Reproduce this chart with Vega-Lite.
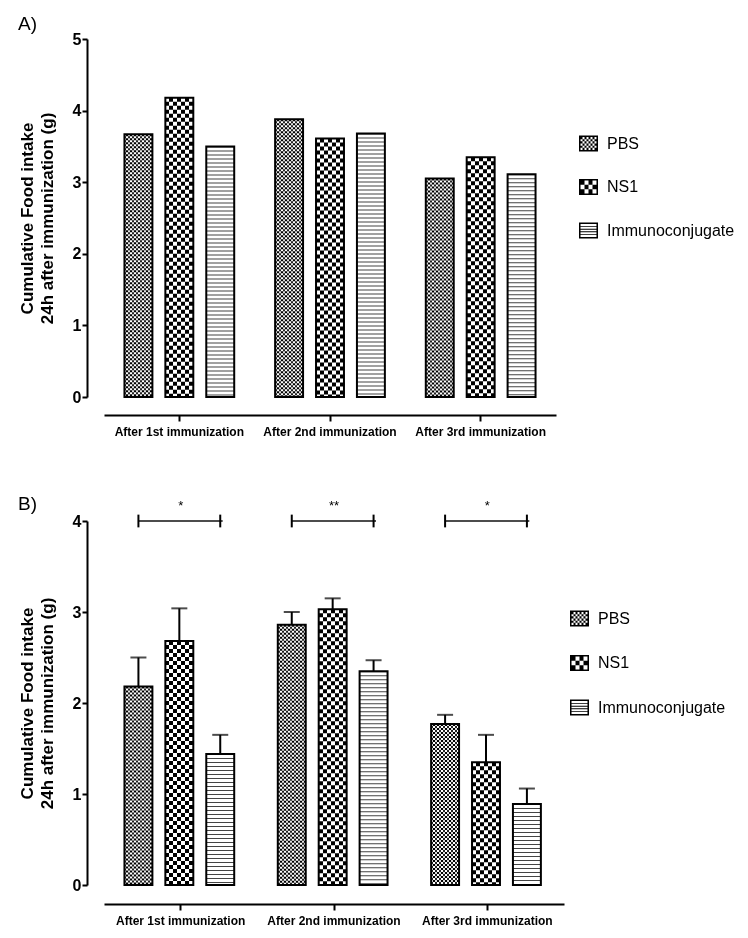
{
  "$schema": "https://vega.github.io/schema/vega-lite/v6.json",
  "background": "white",
  "padding": {"left": 18, "top": 15, "right": 5, "bottom": 5},
  "spacing": 58,
  "resolve": {"scale": {"shape": "independent"}, "legend": {"shape": "independent"}},
  "datasets": {
    "A": [
      {"group": "After 1st immunization", "series": "PBS", "value": 3.67},
      {"group": "After 1st immunization", "series": "NS1", "value": 4.18},
      {"group": "After 1st immunization", "series": "Immunoconjugate", "value": 3.50},
      {"group": "After 2nd immunization", "series": "PBS", "value": 3.88},
      {"group": "After 2nd immunization", "series": "NS1", "value": 3.61},
      {"group": "After 2nd immunization", "series": "Immunoconjugate", "value": 3.68},
      {"group": "After 3rd immunization", "series": "PBS", "value": 3.05},
      {"group": "After 3rd immunization", "series": "NS1", "value": 3.35},
      {"group": "After 3rd immunization", "series": "Immunoconjugate", "value": 3.11}
    ],
    "B": [
      {"group": "After 1st immunization", "series": "PBS", "value": 2.18, "upper": 2.50},
      {"group": "After 1st immunization", "series": "NS1", "value": 2.68, "upper": 3.04},
      {"group": "After 1st immunization", "series": "Immunoconjugate", "value": 1.44, "upper": 1.65},
      {"group": "After 2nd immunization", "series": "PBS", "value": 2.86, "upper": 3.00},
      {"group": "After 2nd immunization", "series": "NS1", "value": 3.03, "upper": 3.15},
      {"group": "After 2nd immunization", "series": "Immunoconjugate", "value": 2.35, "upper": 2.47},
      {"group": "After 3rd immunization", "series": "PBS", "value": 1.77, "upper": 1.87},
      {"group": "After 3rd immunization", "series": "NS1", "value": 1.35, "upper": 1.65},
      {"group": "After 3rd immunization", "series": "Immunoconjugate", "value": 0.89, "upper": 1.06}
    ],
    "sigB": [
      {"group": "After 1st immunization", "label": "*", "level": 4, "capLow": 3.93, "capHigh": 4.07},
      {"group": "After 2nd immunization", "label": "**", "level": 4, "capLow": 3.93, "capHigh": 4.07},
      {"group": "After 3rd immunization", "label": "*", "level": 4, "capLow": 3.93, "capHigh": 4.07}
    ]
  },
  "vconcat": [
    {
      "width": 452,
      "height": 358,
      "title": {"text": "A)", "anchor": "start", "frame": "bounds", "font": "Liberation Sans", "fontSize": 19, "fontWeight": "normal", "offset": -3},
      "data": {"name": "A"},
      "encoding": {
        "x": {"field": "group", "type": "nominal", "sort": ["After 1st immunization", "After 2nd immunization", "After 3rd immunization"], "scale": {"paddingInner": 0, "paddingOuter": 0},
          "axis": {"title": null, "labelFontSize": 12, "labelFontWeight": "bold", "labelAngle": 0, "domainWidth": 2, "tickWidth": 2, "tickSize": 6, "labelPadding": 5, "offset": 18}},
        "y": {"field": "value", "type": "quantitative", "scale": {"domain": [0, 5], "nice": false},
          "axis": {"title": ["Cumulative Food intake", "24h after immunization (g)"], "values": [0, 1, 2, 3, 4, 5], "format": "d", "labelFontSize": 16, "labelFontWeight": "bold", "labelPadding": 1, "tickSize": 5, "tickWidth": 2, "domainWidth": 2, "offset": 17, "titleFontSize": 17, "titleFontWeight": "bold", "titlePadding": 16, "titleLineHeight": 20}}
      },
      "layer": [
        {"transform": [{"filter": "datum.series === 'PBS'"}],
         "mark": {"type": "bar", "strokeWidth": 0, "fill": {"gradient": "linear", "x1": 0, "y1": 0, "x2": 1, "y2": 0, "stops": [
           {"offset": 0, "color": "#222"}, {"offset": 0.071429, "color": "#222"}, {"offset": 0.071429, "color": "white"}, {"offset": 0.142857, "color": "white"},
           {"offset": 0.142857, "color": "#222"}, {"offset": 0.214286, "color": "#222"}, {"offset": 0.214286, "color": "white"}, {"offset": 0.285714, "color": "white"},
           {"offset": 0.285714, "color": "#222"}, {"offset": 0.357143, "color": "#222"}, {"offset": 0.357143, "color": "white"}, {"offset": 0.428571, "color": "white"},
           {"offset": 0.428571, "color": "#222"}, {"offset": 0.5, "color": "#222"}, {"offset": 0.5, "color": "white"}, {"offset": 0.571429, "color": "white"},
           {"offset": 0.571429, "color": "#222"}, {"offset": 0.642857, "color": "#222"}, {"offset": 0.642857, "color": "white"}, {"offset": 0.714286, "color": "white"},
           {"offset": 0.714286, "color": "#222"}, {"offset": 0.785714, "color": "#222"}, {"offset": 0.785714, "color": "white"}, {"offset": 0.857143, "color": "white"},
           {"offset": 0.857143, "color": "#222"}, {"offset": 0.928571, "color": "#222"}, {"offset": 0.928571, "color": "white"}, {"offset": 1, "color": "white"}]}},
         "encoding": {"xOffset": {"field": "series", "type": "nominal", "sort": ["PBS", "NS1", "Immunoconjugate"], "scale": {"paddingInner": 0.317, "paddingOuter": 0.5}}}},
        {"transform": [{"filter": "datum.series === 'PBS'"}],
         "mark": {"type": "rule", "stroke": "white", "strokeWidth": 28, "strokeDash": [2, 2], "blend": "difference"},
         "encoding": {"xOffset": {"field": "series", "type": "nominal", "sort": ["PBS", "NS1", "Immunoconjugate"]}, "y2": {"datum": 0}}},
        {"transform": [{"filter": "datum.series === 'NS1'"}],
         "mark": {"type": "bar", "strokeWidth": 0, "fill": {"gradient": "linear", "x1": 0, "y1": 0, "x2": 1, "y2": 0, "stops": [
           {"offset": 0, "color": "black"}, {"offset": 0.142857, "color": "black"}, {"offset": 0.142857, "color": "white"}, {"offset": 0.285714, "color": "white"},
           {"offset": 0.285714, "color": "black"}, {"offset": 0.428571, "color": "black"}, {"offset": 0.428571, "color": "white"}, {"offset": 0.571429, "color": "white"},
           {"offset": 0.571429, "color": "black"}, {"offset": 0.714286, "color": "black"}, {"offset": 0.714286, "color": "white"}, {"offset": 0.857143, "color": "white"},
           {"offset": 0.857143, "color": "black"}, {"offset": 1, "color": "black"}]}},
         "encoding": {"xOffset": {"field": "series", "type": "nominal", "sort": ["PBS", "NS1", "Immunoconjugate"]}}},
        {"transform": [{"filter": "datum.series === 'NS1'"}],
         "mark": {"type": "rule", "stroke": "white", "strokeWidth": 28, "strokeDash": [4, 4], "blend": "difference"},
         "encoding": {"xOffset": {"field": "series", "type": "nominal", "sort": ["PBS", "NS1", "Immunoconjugate"]}, "y2": {"datum": 0}}},
        {"transform": [{"filter": "datum.series === 'Immunoconjugate'"}],
         "mark": {"type": "bar", "strokeWidth": 0, "fill": "white"},
         "encoding": {"xOffset": {"field": "series", "type": "nominal", "sort": ["PBS", "NS1", "Immunoconjugate"]}}},
        {"transform": [{"filter": "datum.series === 'Immunoconjugate'"}],
         "mark": {"type": "rule", "stroke": "#444", "strokeWidth": 28, "strokeDash": [1, 3]},
         "encoding": {"xOffset": {"field": "series", "type": "nominal", "sort": ["PBS", "NS1", "Immunoconjugate"]}, "y2": {"datum": 0}}},
        {"mark": {"type": "bar", "filled": false, "stroke": "black", "strokeWidth": 2},
         "encoding": {"xOffset": {"field": "series", "type": "nominal", "sort": ["PBS", "NS1", "Immunoconjugate"]}}},
        {"mark": {"type": "point", "filled": true, "color": "black", "opacity": 0},
         "encoding": {"xOffset": {"field": "series", "type": "nominal", "sort": ["PBS", "NS1", "Immunoconjugate"]},
           "shape": {"field": "series", "type": "nominal", "sort": ["PBS", "NS1", "Immunoconjugate"],
             "scale": {"domain": ["PBS", "NS1", "Immunoconjugate"], "range": [
               "M-1,-0.84H1V0.84H-1Z M-0.84,-0.68V0.68H0.84V-0.68Z M-0.84,-0.68h0.21v0.2267h-0.21Z M-0.42,-0.68h0.21v0.2267h-0.21Z M0,-0.68h0.21v0.2267h-0.21Z M0.42,-0.68h0.21v0.2267h-0.21Z M-0.63,-0.4533h0.21v0.2267h-0.21Z M-0.21,-0.4533h0.21v0.2267h-0.21Z M0.21,-0.4533h0.21v0.2267h-0.21Z M0.63,-0.4533h0.21v0.2267h-0.21Z M-0.84,-0.2267h0.21v0.2267h-0.21Z M-0.42,-0.2267h0.21v0.2267h-0.21Z M0,-0.2267h0.21v0.2267h-0.21Z M0.42,-0.2267h0.21v0.2267h-0.21Z M-0.63,0h0.21v0.2267h-0.21Z M-0.21,0h0.21v0.2267h-0.21Z M0.21,0h0.21v0.2267h-0.21Z M0.63,0h0.21v0.2267h-0.21Z M-0.84,0.2267h0.21v0.2267h-0.21Z M-0.42,0.2267h0.21v0.2267h-0.21Z M0,0.2267h0.21v0.2267h-0.21Z M0.42,0.2267h0.21v0.2267h-0.21Z M-0.63,0.4533h0.21v0.2267h-0.21Z M-0.21,0.4533h0.21v0.2267h-0.21Z M0.21,0.4533h0.21v0.2267h-0.21Z M0.63,0.4533h0.21v0.2267h-0.21Z",
               "M-1,-0.84H1V0.84H-1Z M-0.84,-0.68V0.68H0.84V-0.68Z M-0.84,-0.68h0.42v0.4533h-0.42Z M0,-0.68h0.42v0.4533h-0.42Z M-0.42,-0.2267h0.42v0.4533h-0.42Z M0.42,-0.2267h0.42v0.4533h-0.42Z M-0.84,0.2267h0.42v0.4533h-0.42Z M0,0.2267h0.42v0.4533h-0.42Z",
               "M-1,-0.84H1V0.84H-1Z M-0.84,-0.68V0.68H0.84V-0.68Z M-0.84,-0.458h1.68v0.1h-1.68Z M-0.84,-0.186h1.68v0.1h-1.68Z M-0.84,0.086h1.68v0.1h-1.68Z M-0.84,0.358h1.68v0.1h-1.68Z"]},
             "legend": {"orient": "none", "legendX": 475, "legendY": 95, "title": null, "padding": 0, "symbolSize": 361, "symbolFillColor": "black", "symbolStrokeWidth": 0, "symbolOpacity": 1, "labelFont": "Liberation Sans", "labelFontSize": 16, "labelColor": "black", "rowPadding": 25.5, "labelOffset": 9}}}}
      ]
    },
    {
      "width": 460,
      "height": 364,
      "title": {"text": "B)", "anchor": "start", "frame": "bounds", "font": "Liberation Sans", "fontSize": 19, "fontWeight": "normal", "offset": -14},
      "data": {"name": "B"},
      "encoding": {
        "x": {"field": "group", "type": "nominal", "sort": ["After 1st immunization", "After 2nd immunization", "After 3rd immunization"], "scale": {"paddingInner": 0, "paddingOuter": 0},
          "axis": {"title": null, "labelFontSize": 12, "labelFontWeight": "bold", "labelAngle": 0, "domainWidth": 2, "tickWidth": 2, "tickSize": 6, "labelPadding": 5, "offset": 19}},
        "y": {"field": "value", "type": "quantitative", "scale": {"domain": [0, 4], "nice": false},
          "title": ["Cumulative Food intake", "24h after immunization (g)"],
          "axis": {"values": [0, 1, 2, 3, 4], "format": "d", "labelFontSize": 16, "labelFontWeight": "bold", "labelPadding": 1, "tickSize": 5, "tickWidth": 2, "domainWidth": 2, "offset": 17, "titleFontSize": 17, "titleFontWeight": "bold", "titlePadding": 16, "titleLineHeight": 20}}
      },
      "layer": [
        {"transform": [{"filter": "datum.series === 'PBS'"}],
         "mark": {"type": "bar", "strokeWidth": 0, "fill": {"gradient": "linear", "x1": 0, "y1": 0, "x2": 1, "y2": 0, "stops": [
           {"offset": 0, "color": "#222"}, {"offset": 0.071429, "color": "#222"}, {"offset": 0.071429, "color": "white"}, {"offset": 0.142857, "color": "white"},
           {"offset": 0.142857, "color": "#222"}, {"offset": 0.214286, "color": "#222"}, {"offset": 0.214286, "color": "white"}, {"offset": 0.285714, "color": "white"},
           {"offset": 0.285714, "color": "#222"}, {"offset": 0.357143, "color": "#222"}, {"offset": 0.357143, "color": "white"}, {"offset": 0.428571, "color": "white"},
           {"offset": 0.428571, "color": "#222"}, {"offset": 0.5, "color": "#222"}, {"offset": 0.5, "color": "white"}, {"offset": 0.571429, "color": "white"},
           {"offset": 0.571429, "color": "#222"}, {"offset": 0.642857, "color": "#222"}, {"offset": 0.642857, "color": "white"}, {"offset": 0.714286, "color": "white"},
           {"offset": 0.714286, "color": "#222"}, {"offset": 0.785714, "color": "#222"}, {"offset": 0.785714, "color": "white"}, {"offset": 0.857143, "color": "white"},
           {"offset": 0.857143, "color": "#222"}, {"offset": 0.928571, "color": "#222"}, {"offset": 0.928571, "color": "white"}, {"offset": 1, "color": "white"}]}},
         "encoding": {"xOffset": {"field": "series", "type": "nominal", "sort": ["PBS", "NS1", "Immunoconjugate"], "scale": {"paddingInner": 0.317, "paddingOuter": 0.5}}}},
        {"transform": [{"filter": "datum.series === 'PBS'"}],
         "mark": {"type": "rule", "stroke": "white", "strokeWidth": 28, "strokeDash": [2, 2], "blend": "difference"},
         "encoding": {"xOffset": {"field": "series", "type": "nominal", "sort": ["PBS", "NS1", "Immunoconjugate"]}, "y2": {"datum": 0}}},
        {"transform": [{"filter": "datum.series === 'NS1'"}],
         "mark": {"type": "bar", "strokeWidth": 0, "fill": {"gradient": "linear", "x1": 0, "y1": 0, "x2": 1, "y2": 0, "stops": [
           {"offset": 0, "color": "black"}, {"offset": 0.142857, "color": "black"}, {"offset": 0.142857, "color": "white"}, {"offset": 0.285714, "color": "white"},
           {"offset": 0.285714, "color": "black"}, {"offset": 0.428571, "color": "black"}, {"offset": 0.428571, "color": "white"}, {"offset": 0.571429, "color": "white"},
           {"offset": 0.571429, "color": "black"}, {"offset": 0.714286, "color": "black"}, {"offset": 0.714286, "color": "white"}, {"offset": 0.857143, "color": "white"},
           {"offset": 0.857143, "color": "black"}, {"offset": 1, "color": "black"}]}},
         "encoding": {"xOffset": {"field": "series", "type": "nominal", "sort": ["PBS", "NS1", "Immunoconjugate"]}}},
        {"transform": [{"filter": "datum.series === 'NS1'"}],
         "mark": {"type": "rule", "stroke": "white", "strokeWidth": 28, "strokeDash": [4, 4], "blend": "difference"},
         "encoding": {"xOffset": {"field": "series", "type": "nominal", "sort": ["PBS", "NS1", "Immunoconjugate"]}, "y2": {"datum": 0}}},
        {"transform": [{"filter": "datum.series === 'Immunoconjugate'"}],
         "mark": {"type": "bar", "strokeWidth": 0, "fill": "white"},
         "encoding": {"xOffset": {"field": "series", "type": "nominal", "sort": ["PBS", "NS1", "Immunoconjugate"]}}},
        {"transform": [{"filter": "datum.series === 'Immunoconjugate'"}],
         "mark": {"type": "rule", "stroke": "#444", "strokeWidth": 28, "strokeDash": [1, 3]},
         "encoding": {"xOffset": {"field": "series", "type": "nominal", "sort": ["PBS", "NS1", "Immunoconjugate"]}, "y2": {"datum": 0}}},
        {"mark": {"type": "bar", "filled": false, "stroke": "black", "strokeWidth": 2},
         "encoding": {"xOffset": {"field": "series", "type": "nominal", "sort": ["PBS", "NS1", "Immunoconjugate"]}}},
        {"mark": {"type": "rule", "color": "black", "strokeWidth": 2},
         "encoding": {"xOffset": {"field": "series", "type": "nominal", "sort": ["PBS", "NS1", "Immunoconjugate"]},
           "y": {"field": "upper", "type": "quantitative", "title": ["Cumulative Food intake", "24h after immunization (g)"]}, "y2": {"field": "value"}}},
        {"mark": {"type": "tick", "color": "black", "size": 16, "thickness": 2},
         "encoding": {"xOffset": {"field": "series", "type": "nominal", "sort": ["PBS", "NS1", "Immunoconjugate"]},
           "y": {"field": "upper", "type": "quantitative", "title": ["Cumulative Food intake", "24h after immunization (g)"]}}},
        {"data": {"name": "sigB"},
         "mark": {"type": "tick", "color": "black", "size": 84, "thickness": 2},
         "encoding": {"y": {"field": "level", "type": "quantitative", "title": ["Cumulative Food intake", "24h after immunization (g)"]}}},
        {"data": {"name": "sigB"},
         "mark": {"type": "text", "color": "black", "fontSize": 13, "dy": -15},
         "encoding": {"y": {"field": "level", "type": "quantitative", "title": ["Cumulative Food intake", "24h after immunization (g)"]}, "text": {"field": "label"}}},
        {"transform": [{"filter": "datum.series !== 'NS1'"}, {"lookup": "group", "from": {"data": {"name": "sigB"}, "key": "group", "fields": ["capLow", "capHigh"]}}],
         "mark": {"type": "rule", "color": "black", "strokeWidth": 2},
         "encoding": {"xOffset": {"field": "series", "type": "nominal", "sort": ["PBS", "NS1", "Immunoconjugate"]},
           "y": {"field": "capLow", "type": "quantitative", "title": ["Cumulative Food intake", "24h after immunization (g)"]}, "y2": {"field": "capHigh"}}},
        {"mark": {"type": "point", "filled": true, "color": "black", "opacity": 0},
         "encoding": {"xOffset": {"field": "series", "type": "nominal", "sort": ["PBS", "NS1", "Immunoconjugate"]},
           "shape": {"field": "series", "type": "nominal", "sort": ["PBS", "NS1", "Immunoconjugate"],
             "scale": {"domain": ["PBS", "NS1", "Immunoconjugate"], "range": [
               "M-1,-0.84H1V0.84H-1Z M-0.84,-0.68V0.68H0.84V-0.68Z M-0.84,-0.68h0.21v0.2267h-0.21Z M-0.42,-0.68h0.21v0.2267h-0.21Z M0,-0.68h0.21v0.2267h-0.21Z M0.42,-0.68h0.21v0.2267h-0.21Z M-0.63,-0.4533h0.21v0.2267h-0.21Z M-0.21,-0.4533h0.21v0.2267h-0.21Z M0.21,-0.4533h0.21v0.2267h-0.21Z M0.63,-0.4533h0.21v0.2267h-0.21Z M-0.84,-0.2267h0.21v0.2267h-0.21Z M-0.42,-0.2267h0.21v0.2267h-0.21Z M0,-0.2267h0.21v0.2267h-0.21Z M0.42,-0.2267h0.21v0.2267h-0.21Z M-0.63,0h0.21v0.2267h-0.21Z M-0.21,0h0.21v0.2267h-0.21Z M0.21,0h0.21v0.2267h-0.21Z M0.63,0h0.21v0.2267h-0.21Z M-0.84,0.2267h0.21v0.2267h-0.21Z M-0.42,0.2267h0.21v0.2267h-0.21Z M0,0.2267h0.21v0.2267h-0.21Z M0.42,0.2267h0.21v0.2267h-0.21Z M-0.63,0.4533h0.21v0.2267h-0.21Z M-0.21,0.4533h0.21v0.2267h-0.21Z M0.21,0.4533h0.21v0.2267h-0.21Z M0.63,0.4533h0.21v0.2267h-0.21Z",
               "M-1,-0.84H1V0.84H-1Z M-0.84,-0.68V0.68H0.84V-0.68Z M-0.84,-0.68h0.42v0.4533h-0.42Z M0,-0.68h0.42v0.4533h-0.42Z M-0.42,-0.2267h0.42v0.4533h-0.42Z M0.42,-0.2267h0.42v0.4533h-0.42Z M-0.84,0.2267h0.42v0.4533h-0.42Z M0,0.2267h0.42v0.4533h-0.42Z",
               "M-1,-0.84H1V0.84H-1Z M-0.84,-0.68V0.68H0.84V-0.68Z M-0.84,-0.458h1.68v0.1h-1.68Z M-0.84,-0.186h1.68v0.1h-1.68Z M-0.84,0.086h1.68v0.1h-1.68Z M-0.84,0.358h1.68v0.1h-1.68Z"]},
             "legend": {"orient": "none", "legendX": 466, "legendY": 88, "title": null, "padding": 0, "symbolSize": 361, "symbolFillColor": "black", "symbolStrokeWidth": 0, "symbolOpacity": 1, "labelFont": "Liberation Sans", "labelFontSize": 16, "labelColor": "black", "rowPadding": 26.5, "labelOffset": 9}}}}
      ]
    }
  ],
  "config": {
    "view": {"stroke": null},
    "font": "Liberation Sans",
    "axis": {"domainColor": "black", "tickColor": "black", "labelColor": "black", "titleColor": "black", "grid": false},
    "title": {"color": "black"}
  }
}
